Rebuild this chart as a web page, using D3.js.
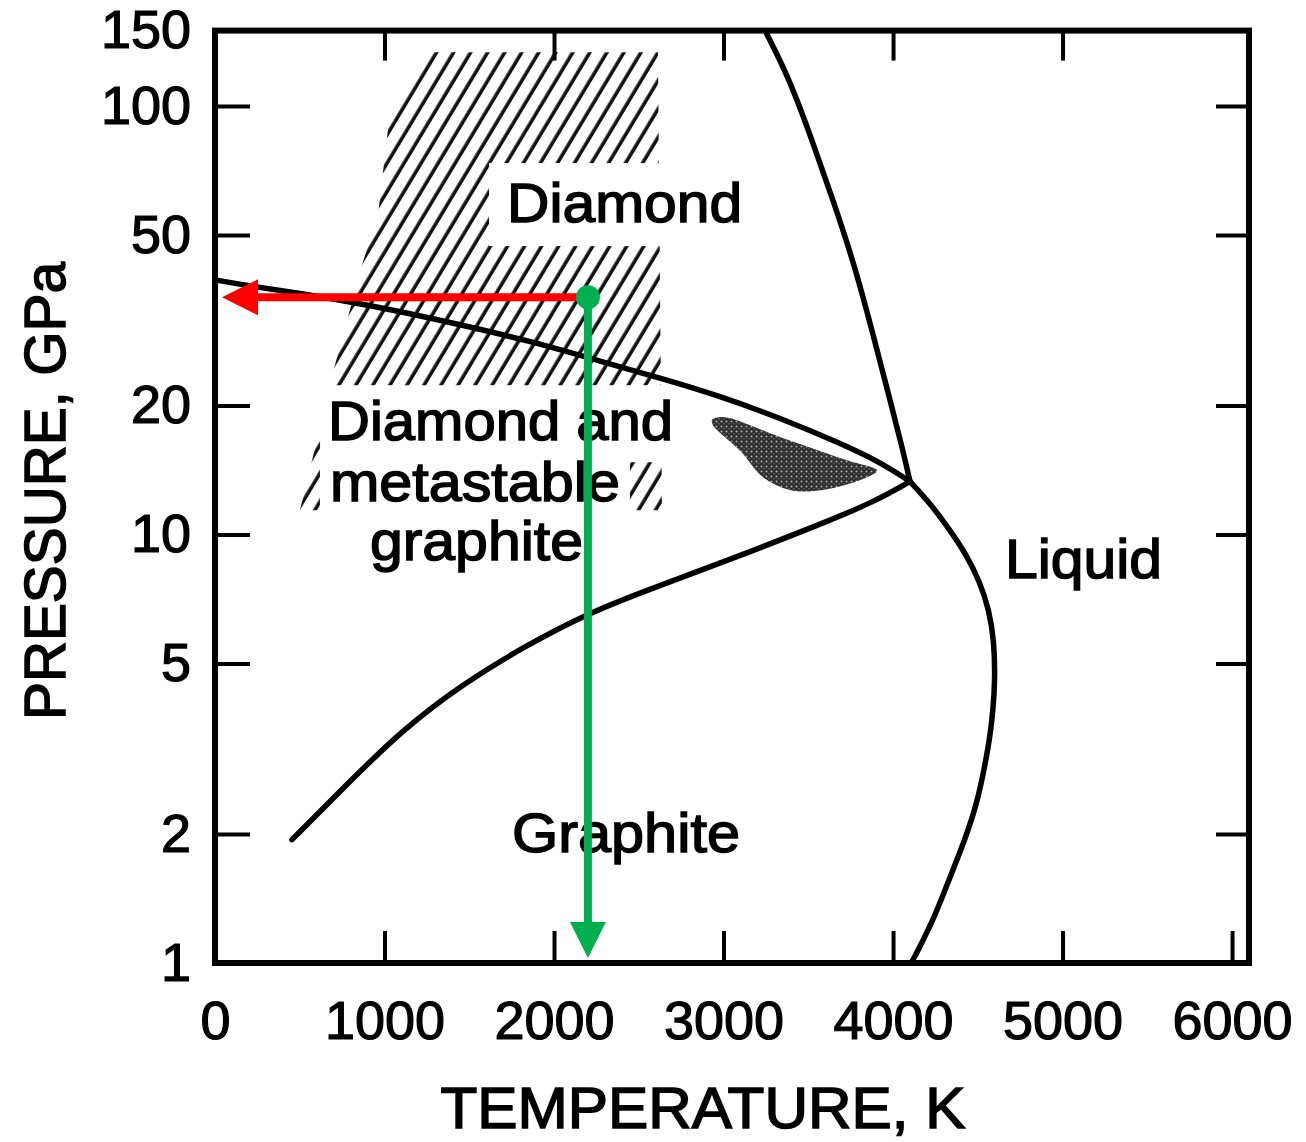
<!DOCTYPE html>
<html><head><meta charset="utf-8">
<script src="https://cdn.jsdelivr.net/npm/d3@7"></script>
<style>
body{margin:0;background:#fff}
svg{display:block}
text{font-family:"Liberation Sans",Arial,sans-serif;fill:#000}
</style>
</head><body>
<svg id="chart" width="1306" height="1142"></svg>
<script>
// ---------- data ----------
const tempTicks = [0, 1000, 2000, 3000, 4000, 5000, 6000];
const pressTicks = [1, 2, 5, 10, 20, 50, 100, 150];

// graphite / diamond equilibrium line (T in K, P in GPa)
const graphiteDiamondLine = [[0,39.3],[206,38.0],[501,36.6],[914,34.3],[1386,31.3],[1858,28.3],[2271,25.4],[2625,23.2],[2979,21.05],[3333,18.7],[3687,16.35],[3923,14.76],[4100,13.3]];
// diamond melting line
const diamondMeltLine = [[3245,150],[3392,115],[3522,83.3],[3646,60.3],[3764,43.7],[3876,30.0],[3982,20.6],[4059,15.7],[4100,13.3]];
// graphite melting line
const graphiteMeltLine = [[4100,13.3],[4218,11.84],[4336,10.24],[4430,9.01],[4513,7.75],[4566,6.67],[4596,5.67],[4602,4.58],[4590,3.89],[4572,3.37],[4537,2.82],[4495,2.36],[4430,1.97],[4354,1.65],[4295,1.44],[4236,1.26],[4177,1.13],[4118,1.016],[4106,1.0]];
// lower (graphite -> diamond transformation) line
const lowerLine = [[454,1.94],[743,2.53],[1103,3.50],[1469,4.50],[1829,5.49],[2189,6.52],[2549,7.42],[3032,8.72],[3516,10.36],[3876,11.84],[4100,13.3]];
// hatched (diamond synthesis) region outline
const hatchRegion = [[1239,133.6],[2613,133.6],[2637,11.4],[501,11.4],[531,12.7],[696,23.9],[873,43.3],[962,55.7],[1032,96.8]];
// stippled region outline
const stippleRegion = [[2932,18.5],[2997,18.8],[3333,16.9],[3729,14.9],[3906,14.1],[3847,13.6],[3587,12.7],[3392,12.7],[3233,13.6],[3097,15.7],[2938,18.0]];
// marked state point
const markedPoint = [2200, 35.8];

// region labels: text, anchor T, baseline P
const regionLabels = [
  ["Diamond", 1723, 53.6],
  ["Diamond and", 667, 16.6],
  ["metastable", 678, 12.0],
  ["graphite", 914, 8.72],
  ["Graphite", 1752, 1.82],
  ["Liquid", 4661, 7.92]
];
const xTitle = "TEMPERATURE, K";
const yTitle = "PRESSURE, GPa";

// ---------- drawing ----------
const svg = d3.select("#chart");
const x = d3.scaleLinear().domain([0, 6100]).range([215, 1249]);
const y = d3.scaleLog().domain([1, 150]).range([963, 30.6]);

const defs = svg.append("defs");
const hp = defs.append("pattern").attr("id","hatch").attr("patternUnits","userSpaceOnUse")
  .attr("width",14.6).attr("height",14.6).attr("patternTransform","rotate(31)");
hp.append("line").attr("x1",7).attr("x2",7).attr("y1",-1).attr("y2",16)
  .attr("stroke","#111").attr("stroke-width",3.6);

const sp = defs.append("pattern").attr("id","stipple").attr("patternUnits","userSpaceOnUse")
  .attr("width",5).attr("height",5);
sp.append("rect").attr("width",5).attr("height",5).attr("fill","#2e2e2e");
sp.append("circle").attr("cx",1.5).attr("cy",1.5).attr("r",1).attr("fill","#b0b0b0");
sp.append("circle").attr("cx",4).attr("cy",3.8).attr("r",0.7).attr("fill","#808080");

const areaPath = d3.line().x(d=>x(d[0])).y(d=>y(d[1])).curve(d3.curveLinearClosed);
const curve = d3.line().x(d=>x(d[0])).y(d=>y(d[1])).curve(d3.curveBasis);
const blobPath = d3.line().x(d=>x(d[0])).y(d=>y(d[1])).curve(d3.curveCatmullRomClosed.alpha(0.5));

// hatched region
svg.append("path").attr("d", areaPath(hatchRegion)).attr("fill","url(#hatch)");

const boxLayer = svg.append("g");
const stippleLayer = svg.append("g");
const curveLayer = svg.append("g");
const frameLayer = svg.append("g");
const textLayer = svg.append("g");
const arrowLayer = svg.append("g");

const labelWidths = {"Diamond":235,"Diamond and":345,"metastable":290,"graphite":213,"Graphite":228,"Liquid":157};
const labelPads = {"Diamond":[18,14,22,12],"Diamond and":[8,10,12,10],"metastable":[10,10,10,10],"graphite":[8,8,8,6]};
regionLabels.forEach(([t,T,P])=>{
  const el = textLayer.append("text")
    .attr("x", x(T)).attr("y", y(P))
    .attr("font-size", 56)
    .attr("stroke","#000").attr("stroke-width",1.5)
    .attr("textLength", labelWidths[t]).attr("lengthAdjust","spacingAndGlyphs")
    .text(t);
  if (labelPads[t]) {
    const b = el.node().getBBox(), p = labelPads[t];
    boxLayer.append("rect").attr("x", b.x - p[0]).attr("y", b.y - p[1] + 6)
      .attr("width", b.width + p[0] + p[2]).attr("height", b.height + p[1] + p[3] - 6)
      .attr("fill","#fff");
  }
});

// stippled region
stippleLayer.append("path").attr("d", blobPath(stippleRegion)).attr("fill","url(#stipple)");

// phase boundaries
[graphiteDiamondLine, diamondMeltLine, graphiteMeltLine, lowerLine].forEach(line=>{
  curveLayer.append("path").attr("d", curve(line)).attr("fill","none")
    .attr("stroke","#000").attr("stroke-width",5.5).attr("stroke-linecap","round").attr("stroke-linejoin","round");
});

// frame
frameLayer.append("rect").attr("x", x(0)).attr("y", y(150))
  .attr("width", x(6100)-x(0)).attr("height", y(1)-y(150))
  .attr("fill","none").attr("stroke","#000").attr("stroke-width",6);

// axes
function styleAxis(g){
  g.select(".domain").remove();
  g.selectAll(".tick line").attr("stroke","#000").attr("stroke-width",4);
  g.selectAll(".tick text").attr("font-size",54).attr("font-family","'Liberation Sans',Arial,sans-serif")
    .attr("fill","#000").attr("stroke","#000").attr("stroke-width",1.2);
}
frameLayer.append("g").attr("transform",`translate(0,${y(1)})`)
  .call(d3.axisBottom(x).tickValues(tempTicks).tickSize(-32).tickPadding(38).tickFormat(d3.format("d")))
  .call(styleAxis);
frameLayer.append("g").attr("transform",`translate(0,${y(150)})`)
  .call(d3.axisTop(x).tickValues(tempTicks.slice(1,-1)).tickSize(-30).tickFormat(""))
  .call(styleAxis);
frameLayer.append("g").attr("transform",`translate(${x(0)},0)`)
  .call(d3.axisLeft(y).tickValues(pressTicks).tickSize(-35).tickPadding(24).tickFormat(d3.format("d")))
  .call(styleAxis);
frameLayer.append("g").attr("transform",`translate(${x(6100)},0)`)
  .call(d3.axisRight(y).tickValues(pressTicks.slice(1,-1)).tickSize(-33).tickFormat(""))
  .call(styleAxis);

// axis titles
textLayer.append("text").attr("x", 703).attr("y", 1128).attr("text-anchor","middle")
  .attr("font-size",58).attr("stroke","#000").attr("stroke-width",1.5)
  .attr("textLength",525).attr("lengthAdjust","spacingAndGlyphs").text(xTitle);
textLayer.append("text").attr("transform","translate(65,491) rotate(-90)").attr("text-anchor","middle")
  .attr("font-size",58).attr("stroke","#000").attr("stroke-width",1.5)
  .attr("textLength",458).attr("lengthAdjust","spacingAndGlyphs").text(yTitle);

// arrows from the marked point
const px = x(markedPoint[0]), py = y(markedPoint[1]);
const red = "#ff0000", green = "#00b050";
const redTip = x(0) + 7, headL = 36, headW = 18;
arrowLayer.append("line").attr("x1", px).attr("y1", py).attr("x2", redTip + headL - 2).attr("y2", py)
  .attr("stroke", red).attr("stroke-width", 8);
arrowLayer.append("path").attr("d", `M${redTip},${py} L${redTip+headL},${py-headW} L${redTip+headL},${py+headW} Z`).attr("fill", red);
const greenTip = y(1) - 5;
arrowLayer.append("line").attr("x1", px).attr("y1", py).attr("x2", px).attr("y2", greenTip - headL + 2)
  .attr("stroke", green).attr("stroke-width", 8);
arrowLayer.append("path").attr("d", `M${px},${greenTip} L${px-headW},${greenTip-headL} L${px+headW},${greenTip-headL} Z`).attr("fill", green);
arrowLayer.append("circle").attr("cx", px).attr("cy", py).attr("r", 12).attr("fill", green);
</script>
</body></html>
